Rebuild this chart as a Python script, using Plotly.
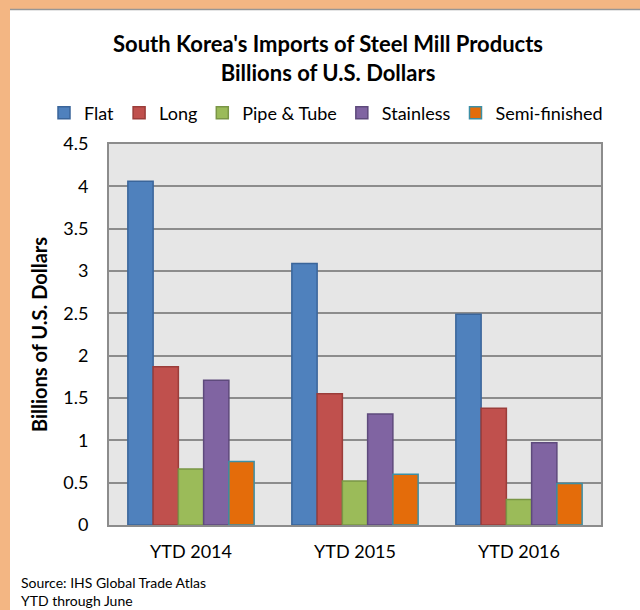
import plotly.graph_objects as go

categories = ["YTD 2014", "YTD 2015", "YTD 2016"]
series_names = ["Flat", "Long", "Pipe & Tube", "Stainless", "Semi-finished"]
flat = [4.06, 3.09, 2.49]
long_ = [1.87, 1.55, 1.38]
pipe = [0.66, 0.52, 0.30]
stainless = [1.71, 1.31, 0.97]
semi = [0.75, 0.60, 0.49]
values = [flat, long_, pipe, stainless, semi]
y_ticks = [0, 0.5, 1, 1.5, 2, 2.5, 3, 3.5, 4, 4.5]
y_tick_labels = ["0", "0.5", "1", "1.5", "2", "2.5", "3", "3.5", "4", "4.5"]

fills = ["#4F81BD", "#C0504D", "#9BBB59", "#8064A2", "#E46C0A"]
edges = ["#3A659A", "#9B3D3A", "#7A9646", "#5E4A7C", "#3C8FA6"]

FONT = "Lato"
W, H = 640, 610
L, R, T, B = 109, 39, 144, 85
PW, PH = W - L - R, H - T - B


def px_x(px):
    return (px - L) / PW


def px_y(py):
    return (H - B - py) / PH


fig = go.Figure()
for name, vals, fc, ec in zip(series_names, values, fills, edges):
    fig.add_trace(go.Bar(
        x=categories, y=vals, name=name,
        marker=dict(color=fc, line=dict(color=ec, width=1.5)),
    ))

shapes = [
    dict(type="rect", xref="paper", yref="paper", layer="below",
         x0=-1, x1=px_x(10), y0=-1, y1=3, fillcolor="#F3B683", line=dict(width=0)),
    dict(type="rect", xref="paper", yref="paper", layer="below",
         x0=-1, x1=3, y0=px_y(9), y1=3, fillcolor="#F3B683", line=dict(width=0)),
    dict(type="line", xref="paper", yref="paper", layer="below",
         x0=px_x(10), x1=3, y0=px_y(9.5), y1=px_y(9.5), line=dict(color="#969696", width=1.5)),
]

annotations = [
    dict(text="Source: IHS Global Trade Atlas", xref="paper", yref="paper",
         x=px_x(19), y=px_y(582.5), xanchor="left", yanchor="middle", showarrow=False,
         font=dict(family=FONT, size=14, color="#000000")),
    dict(text="YTD through June", xref="paper", yref="paper",
         x=px_x(19), y=px_y(600), xanchor="left", yanchor="middle", showarrow=False,
         font=dict(family=FONT, size=14, color="#000000")),
]

fig.update_layout(
    width=W, height=H,
    margin=dict(l=L, r=R, t=T, b=B, pad=0, autoexpand=False),
    paper_bgcolor="#FFFFFF",
    plot_bgcolor="#E6E6E6",
    font=dict(family=FONT, size=18, color="#000000"),
    title=dict(text="<b>South Korea's Imports of Steel Mill Products<br>Billions of U.S. Dollars</b>",
               x=328 / W, xref="container", xanchor="center", y=1 - 52 / H, yanchor="middle",
               font=dict(family=FONT, size=22, color="#000000")),
    barmode="group", bargap=0.23, bargroupgap=0,
    showlegend=True,
    legend=dict(orientation="h", xref="paper", x=px_x(44), xanchor="left",
                yref="paper", y=px_y(113), yanchor="middle",
                font=dict(family=FONT, size=18), bgcolor="rgba(0,0,0,0)",
                traceorder="normal", itemclick=False, itemdoubleclick=False),
    shapes=shapes,
    annotations=annotations,
)
fig.update_xaxes(showgrid=False, showline=True, linecolor="#8C8C8C", linewidth=2, mirror=True,
                 ticks="", ticklabelstandoff=9, tickfont=dict(family=FONT, size=18))
fig.update_yaxes(range=[0, 4.5], tickvals=y_ticks, ticktext=y_tick_labels,
                 showgrid=True, gridcolor="#8C8C8C", gridwidth=1.5,
                 showline=True, linecolor="#8C8C8C", linewidth=2, mirror=True,
                 zeroline=False, ticks="", ticklabelstandoff=15,
                 tickfont=dict(family=FONT, size=18),
                 title=dict(text="<b>Billions of U.S. Dollars</b>", standoff=10,
                            font=dict(family=FONT, size=20)))

fig.write_html("out.html", config={"displayModeBar": False},
               post_script="document.body.style.margin='0px';")
